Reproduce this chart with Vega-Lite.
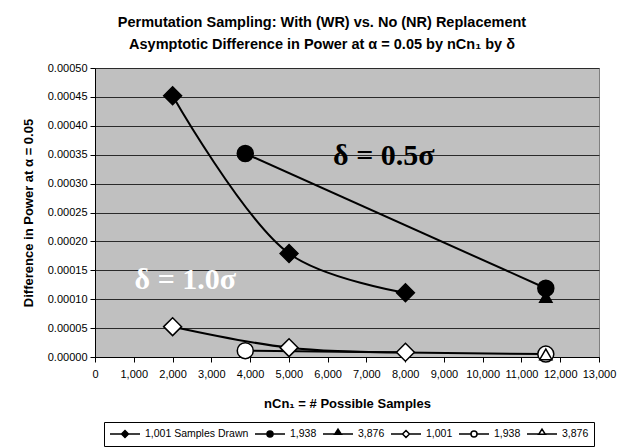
{
  "$schema": "https://vega.github.io/schema/vega-lite/v6.json",
  "width": 504,
  "height": 289,
  "autosize": {"type": "none"},
  "padding": {"left": 95, "top": 68, "right": 27, "bottom": 91},
  "background": "white",
  "title": {
    "text": ["Permutation Sampling: With (WR) vs. No (NR) Replacement", "Asymptotic Difference in Power at α = 0.05 by nCn₁ by δ"],
    "font": "Liberation Sans",
    "fontSize": 14.5,
    "fontWeight": "bold",
    "color": "black",
    "lineHeight": 22,
    "anchor": "middle",
    "frame": "group",
    "dx": -25,
    "offset": 10
  },
  "config": {
    "view": {"fill": "#C0C0C0", "stroke": "#808080", "strokeWidth": 1},
    "axis": {
      "labelFont": "Liberation Sans",
      "labelFontSize": 11,
      "labelColor": "black",
      "titleFont": "Liberation Sans",
      "titleFontSize": 13,
      "titleFontWeight": "bold",
      "titleColor": "black",
      "domainColor": "black",
      "tickColor": "black",
      "tickSize": 5
    }
  },
  "datasets": {
    "pts": [
      {"series": "0.5σ, 1,001", "delta": "0.5σ", "drawn": 1001, "n": 2002, "diff": 0.000452},
      {"series": "0.5σ, 1,001", "delta": "0.5σ", "drawn": 1001, "n": 5005, "diff": 0.000179},
      {"series": "0.5σ, 1,001", "delta": "0.5σ", "drawn": 1001, "n": 8008, "diff": 0.000111},
      {"series": "0.5σ, 1,938", "delta": "0.5σ", "drawn": 1938, "n": 3876, "diff": 0.000352},
      {"series": "0.5σ, 1,938", "delta": "0.5σ", "drawn": 1938, "n": 11628, "diff": 0.000119},
      {"series": "0.5σ, 3,876", "delta": "0.5σ", "drawn": 3876, "n": 11628, "diff": 0.000104},
      {"series": "1.0σ, 1,001", "delta": "1.0σ", "drawn": 1001, "n": 2002, "diff": 0.0000525},
      {"series": "1.0σ, 1,001", "delta": "1.0σ", "drawn": 1001, "n": 5005, "diff": 0.0000162},
      {"series": "1.0σ, 1,001", "delta": "1.0σ", "drawn": 1001, "n": 8008, "diff": 0.0000082},
      {"series": "1.0σ, 1,938", "delta": "1.0σ", "drawn": 1938, "n": 3876, "diff": 0.0000110},
      {"series": "1.0σ, 1,938", "delta": "1.0σ", "drawn": 1938, "n": 11628, "diff": 0.0000050},
      {"series": "1.0σ, 3,876", "delta": "1.0σ", "drawn": 3876, "n": 11628, "diff": 0.0000045}
    ],
    "notes": [
      {"label": "δ = 0.5σ", "kind": "dark", "n": 7450, "diff": 0.000348},
      {"label": "δ = 1.0σ", "kind": "light", "n": 2330, "diff": 0.000134}
    ]
  },
  "encoding": {
    "x": {
      "field": "n",
      "type": "quantitative",
      "scale": {"domain": [0, 13000], "nice": false, "zero": false},
      "axis": {
        "title": "nCn₁ = # Possible Samples",
        "values": [0, 1000, 2000, 3000, 4000, 5000, 6000, 7000, 8000, 9000, 10000, 11000, 12000, 13000],
        "format": ",d",
        "grid": false,
        "labelPadding": 6,
        "titlePadding": 18,
        "labelFlush": false,
        "labelOverlap": false
      }
    },
    "y": {
      "field": "diff",
      "type": "quantitative",
      "scale": {"domain": [0, 0.0005], "nice": false},
      "axis": {
        "title": "Difference in Power at α = 0.05",
        "values": [0, 0.00005, 0.0001, 0.00015, 0.0002, 0.00025, 0.0003, 0.00035, 0.0004, 0.00045, 0.0005],
        "format": ".5f",
        "grid": true,
        "gridColor": "#2a2a2a",
        "gridWidth": 1,
        "labelPadding": 3,
        "titlePadding": 12,
        "labelFlush": false,
        "labelOverlap": false
      }
    }
  },
  "layer": [
    {
      "data": {"name": "pts"},
      "mark": {"type": "line", "color": "black", "strokeWidth": 2, "interpolate": "catmull-rom"},
      "encoding": {"detail": {"field": "series", "type": "nominal"}}
    },
    {
      "data": {"name": "pts"},
      "mark": {"type": "point", "filled": true, "stroke": "black", "strokeWidth": 1.5, "opacity": 1},
      "encoding": {
        "shape": {
          "condition": [
            {"test": "datum.drawn == 1001", "value": "diamond"},
            {"test": "datum.drawn == 1938", "value": "circle"}
          ],
          "value": "triangle-up"
        },
        "size": {
          "condition": [
            {"test": "datum.drawn == 1001", "value": 320},
            {"test": "datum.drawn == 1938", "value": 256}
          ],
          "value": 150
        },
        "fill": {
          "condition": {"test": "datum.delta == '0.5σ'", "value": "black"},
          "value": "white"
        }
      }
    },
    {
      "data": {"name": "pts"},
      "mark": {"type": "point", "filled": true, "strokeWidth": 1.5, "opacity": 0},
      "encoding": {
        "shape": {
          "field": "series",
          "type": "nominal",
          "scale": {
            "domain": ["0.5σ, 1,001", "0.5σ, 1,938", "0.5σ, 3,876", "1.0σ, 1,001", "1.0σ, 1,938", "1.0σ, 3,876"],
            "range": [
              "M-2.5,0L2.5,0M0,-0.58L0.58,0L0,0.58L-0.58,0Z",
              "M-2.5,0L2.5,0M0.5,0A0.5,0.5 0 1,1 -0.5,0A0.5,0.5 0 1,1 0.5,0Z",
              "M-2.5,0L2.5,0M0,-0.8L0.55,0.05L-0.55,0.05Z",
              "M-2.5,0L-0.58,0M0.58,0L2.5,0M0,-0.58L0.58,0L0,0.58L-0.58,0Z",
              "M-2.5,0L-0.5,0M0.5,0L2.5,0M0.5,0A0.5,0.5 0 1,1 -0.5,0A0.5,0.5 0 1,1 0.5,0Z",
              "M-2.5,0L-0.55,0M0.55,0L2.5,0M0,-0.8L0.55,0.05L-0.55,0.05Z"
            ]
          },
          "legend": {
            "title": null,
            "orient": "none",
            "legendX": 9,
            "legendY": 354,
            "direction": "horizontal",
            "columns": 6,
            "gridAlign": "none",
            "symbolSize": 144,
            "symbolOffset": 9,
            "symbolOpacity": 1,
            "symbolStrokeColor": "black",
            "symbolStrokeWidth": 1.5,
            "labelFont": "Liberation Sans",
            "labelFontSize": 10.5,
            "labelColor": "black",
            "labelOffset": 13,
            "columnPadding": 3,
            "padding": 5,
            "strokeColor": "black",
            "fillColor": "white",
            "labelExpr": "datum.label == '0.5σ, 1,001' ? '1,001 Samples Drawn' : split(datum.label, ', ')[1]"
          }
        },
        "fill": {
          "field": "series",
          "type": "nominal",
          "scale": {
            "domain": ["0.5σ, 1,001", "0.5σ, 1,938", "0.5σ, 3,876", "1.0σ, 1,001", "1.0σ, 1,938", "1.0σ, 3,876"],
            "range": ["black", "black", "black", "white", "white", "white"]
          }
        },
        "stroke": {
          "field": "series",
          "type": "nominal",
          "scale": {
            "domain": ["0.5σ, 1,001", "0.5σ, 1,938", "0.5σ, 3,876", "1.0σ, 1,001", "1.0σ, 1,938", "1.0σ, 3,876"],
            "range": ["black", "black", "black", "black", "black", "black"]
          }
        }
      }
    },
    {
      "data": {"name": "notes"},
      "mark": {"type": "text", "font": "Liberation Serif", "fontSize": 30, "fontWeight": "bold", "align": "center", "baseline": "middle"},
      "encoding": {
        "text": {"field": "label", "type": "nominal"},
        "color": {
          "condition": {"test": "datum.kind == 'dark'", "value": "black"},
          "value": "white"
        }
      }
    }
  ]
}
